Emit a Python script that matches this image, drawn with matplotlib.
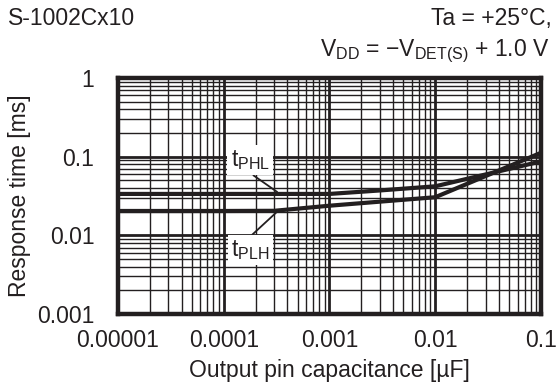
import matplotlib
matplotlib.use('Agg')
import matplotlib.pyplot as plt
from matplotlib.ticker import NullFormatter, LogLocator

plt.rcParams['font.family'] = ['Liberation Sans', 'DejaVu Sans']
plt.rcParams['mathtext.fontset'] = 'custom'
plt.rcParams['mathtext.rm'] = 'Liberation Sans'
plt.rcParams['mathtext.it'] = 'Liberation Sans'

# data
cap = [1e-5, 1e-4, 3e-4, 1e-3, 3e-3, 1e-2, 1e-1]
t_phl = [0.0336, 0.0336, 0.0336, 0.0336, 0.0372, 0.042, 0.087]
t_plh = [0.0204, 0.0204, 0.0205, 0.0238, 0.0268, 0.0305, 0.112]

x_ticks = [1e-5, 1e-4, 1e-3, 1e-2, 1e-1]
x_labels = ['0.00001', '0.0001', '0.001', '0.01', '0.1']
y_ticks = [0.001, 0.01, 0.1, 1]
y_labels = ['0.001', '0.01', '0.1', '1']

ink = '#231f20'
fs = 16.5

fig = plt.figure(figsize=(5.6, 3.92), dpi=100)
ax = fig.add_axes([0.2107, 0.199, 0.966 - 0.2107, 0.801 - 0.199])

ax.set_xscale('log')
ax.set_yscale('log')
ax.set_xlim(1e-5, 1e-1)
ax.set_ylim(1e-3, 1)
ax.xaxis.set_minor_locator(LogLocator(base=10, subs=range(2, 10), numticks=20))
ax.yaxis.set_minor_locator(LogLocator(base=10, subs=range(2, 10), numticks=20))
ax.xaxis.set_minor_formatter(NullFormatter())
ax.yaxis.set_minor_formatter(NullFormatter())
ax.set_xticks(x_ticks, x_labels)
ax.set_yticks(y_ticks, y_labels)
ax.tick_params(which='both', length=0, labelsize=fs, colors=ink)
ax.tick_params(axis='x', pad=11)
ax.tick_params(axis='y', pad=17)

ax.grid(which='major', color=ink, lw=2.0, zorder=1)
ax.grid(which='minor', color=ink, lw=1.0, zorder=1)
ax.set_axisbelow(True)
for s in ax.spines.values():
    s.set_linewidth(3.2)
    s.set_color(ink)

ax.plot(cap, t_phl, color=ink, lw=3.0, zorder=3, solid_capstyle='butt')
ax.plot(cap, t_plh, color=ink, lw=3.0, zorder=3, solid_capstyle='butt')

box = dict(boxstyle='square,pad=0.15', fc='white', ec='none')
ax.annotate(r't$_{\mathregular{PHL}}$', xy=(3.2e-4, 0.0356), xytext=(1.79e-4, 0.0908),
            fontsize=fs, color=ink, ha='center', va='center', bbox=box, zorder=4,
            arrowprops=dict(arrowstyle='-', color=ink, lw=1.3, relpos=(0.45, 0.0),
                            shrinkA=0, shrinkB=0))
ax.annotate(r't$_{\mathregular{PLH}}$', xy=(3.33e-4, 0.0210), xytext=(1.79e-4, 0.0065),
            fontsize=fs, color=ink, ha='center', va='center', bbox=box, zorder=4,
            arrowprops=dict(arrowstyle='-', color=ink, lw=1.3, relpos=(0.45, 1.0),
                            shrinkA=0, shrinkB=0))

ax.set_xlabel('Output pin capacitance [\u00b5F]', fontsize=fs, color=ink, labelpad=5)
ax.set_ylabel('Response time [ms]', fontsize=fs, color=ink, labelpad=4)

fig.text(0.014, 0.935, 'S-1002Cx10', fontsize=fs, color=ink, ha='left', va='baseline')
fig.text(0.986, 0.935, 'Ta = +25\u00b0C,', fontsize=fs, color=ink, ha='right', va='baseline')
fig.text(0.982, 0.857, 'V$_{\\mathregular{DD}}$ = \u2212V$_{\\mathregular{DET(S)}}$ + 1.0 V',
         fontsize=fs, color=ink, ha='right', va='baseline')

fig.savefig('out.png', dpi=100, facecolor='white')
